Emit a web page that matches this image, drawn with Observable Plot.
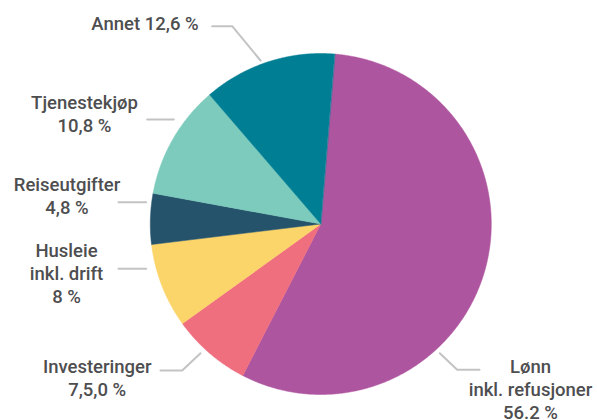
<!DOCTYPE html>
<html><head><meta charset="utf-8">
<script src="https://cdn.jsdelivr.net/npm/d3@7"></script>
<script src="https://cdn.jsdelivr.net/npm/@observablehq/plot@0.6"></script>
<style>body{margin:0;background:#fff}#chart svg{display:block}</style>
</head><body><div id="chart"></div>
<script>
// ---- data ----
const categories = ["Lønn", "Investeringer", "Husleie", "Reiseutgifter", "Tjenestekjøp", "Annet"];
const values = [56.2, 7.5, 8, 4.8, 10.8, 12.6];
const labelLines = [
  ["Lønn", "inkl. refusjoner", "56.2 %"],
  ["Investeringer", "7,5,0 %"],
  ["Husleie", "inkl. drift", "8 %"],
  ["Reiseutgifter", "4,8 %"],
  ["Tjenestekjøp", "10,8 %"],
  ["Annet 12,6 %"]
];
const colors = ["#ae559f", "#ef6f7f", "#fcd56a", "#24536b", "#7ccbbd", "#007e94"];

// ---- layout ----
const W = 597, H = 420;
const cx = 320.3, cy = 223.5, R = 170.5;
const startAngle = 4.7 * Math.PI / 180;
const lineGap = 23;
const labelLayout = [
  {x: 530, y: 372.3},
  {x: 96.7, y: 372.3},
  {x: 66, y: 256.7},
  {x: 66.5, y: 190},
  {x: 84, y: 108},
  {x: 144.5, y: 29}
];
const leaderLayout = [
  [[439.3, 352.7], [456.7, 369.3], [479, 369.3]],
  [[160, 370], [181.7, 370], [200, 352.7]],
  [[118, 268.3], [145.7, 268.3]],
  [[118, 201.7], [145.7, 201.7]],
  [[146.7, 119], [173.3, 119]],
  [[211.7, 25.7], [231.7, 25.7], [260, 60]]
];

// ---- build slices from values ----
const arcs = d3.pie().sort(null).startAngle(startAngle).endAngle(startAngle + 2 * Math.PI)(values);
const slicePts = [];
arcs.forEach((a, i) => {
  const cat = categories[i];
  slicePts.push({cat, x: cx, y: cy});
  const n = Math.max(4, Math.ceil((a.endAngle - a.startAngle) / (Math.PI / 360)));
  for (let k = 0; k <= n; k++) {
    const t = a.startAngle + (a.endAngle - a.startAngle) * k / n;
    slicePts.push({cat, x: cx + R * Math.sin(t), y: cy - R * Math.cos(t)});
  }
});

const textRows = [];
labelLines.forEach((lines, i) => {
  lines.forEach((s, j) => textRows.push({text: s, x: labelLayout[i].x, y: labelLayout[i].y + j * lineGap}));
});
const leaderRows = [];
leaderLayout.forEach((pts, i) => pts.forEach(p => leaderRows.push({id: i, x: p[0], y: p[1]})));

const chart = Plot.plot({
  width: W, height: H,
  margin: 0,
  x: {domain: [0, W], range: [0, W], axis: null},
  y: {domain: [0, H], range: [0, H], axis: null},
  color: {domain: categories, range: colors},
  style: {fontFamily: "Roboto, sans-serif", background: "#fff"},
  marks: [
    Plot.line(slicePts, {x: "x", y: "y", z: "cat", fill: "cat", stroke: "cat", strokeWidth: 0.5, curve: "linear-closed"}),
    Plot.line(leaderRows, {x: "x", y: "y", z: "id", stroke: "#c3c3c5", strokeWidth: 2}),
    Plot.text(textRows, {x: "x", y: "y", text: "text", lineAnchor: "bottom", fill: "#4e4e50", fontSize: 18.5, fontWeight: 500, textAnchor: "middle"})
  ]
});
document.getElementById("chart").append(chart);
</script>
</body></html>
